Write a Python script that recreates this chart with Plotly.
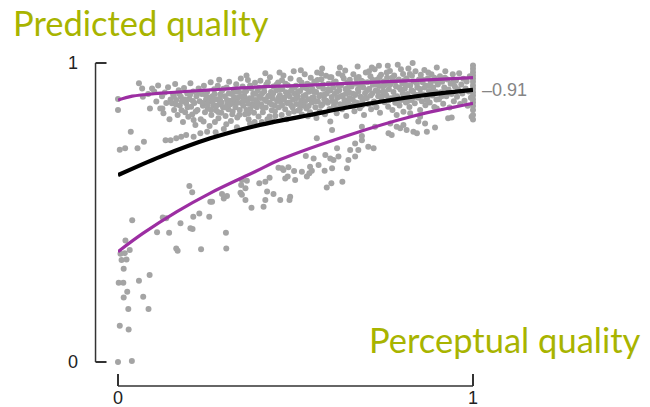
import plotly.graph_objects as go

# ---- scatter data: perceptual quality (x) vs predicted quality (y) ----
sparse_x = [0.000, 0.039, 0.005, 0.030, 0.029, 0.086, 0.016, 0.071, 0.026, 0.002,
            0.015, 0.059, 0.089, 0.016, 0.010, 0.024, 0.019, 0.007, 0.033, 0.021,
            0.110, 0.144, 0.164, 0.168, 0.204, 0.210, 0.234, 0.304, 0.305, 0.176,
            0.040, 0.201, 0.209, 0.293, 0.307, 0.298, 0.260, 0.265, 0.126, 0.136,
            0.212, 0.229, 0.257, 0.347, 0.363, 0.345, 0.349, 0.398, 0.415, 0.427,
            0.359, 0.376, 0.420, 0.438, 0.415, 0.410, 0.471, 0.478, 0.499, 0.483,
            0.532, 0.539, 0.546, 0.582, 0.588, 0.601, 0.632, 0.466, 0.496, 0.452,
            0.480, 0.541, 0.565, 0.603, 0.645, 0.598, 0.529, 0.649, 0.668, 0.617,
            0.668, 0.560, 0.603, 0.598, 0.349, 0.359, 0.462, 0.518, 0.485, 0.457]
sparse_y = [0.000, 0.003, 0.121, 0.109, 0.177, 0.177, 0.216, 0.218, 0.235, 0.265,
            0.265, 0.272, 0.291, 0.312, 0.341, 0.343, 0.364, 0.362, 0.375, 0.406,
            0.434, 0.432, 0.380, 0.372, 0.447, 0.445, 0.377, 0.432, 0.380, 0.464,
            0.474, 0.589, 0.568, 0.562, 0.555, 0.547, 0.536, 0.536, 0.483, 0.481,
            0.486, 0.497, 0.486, 0.592, 0.606, 0.566, 0.559, 0.598, 0.603, 0.616,
            0.542, 0.516, 0.570, 0.562, 0.542, 0.519, 0.614, 0.620, 0.609, 0.542,
            0.620, 0.631, 0.640, 0.640, 0.584, 0.598, 0.603, 0.642, 0.639, 0.650,
            0.651, 0.653, 0.659, 0.648, 0.648, 0.681, 0.689, 0.676, 0.687, 0.715,
            0.731, 0.748, 0.776, 0.804, 0.609, 0.581, 0.648, 0.636, 0.553, 0.542]

mid_x = [0.551, 0.584, 0.607, 0.621, 0.654, 0.677, 0.687, 0.687, 0.705, 0.720,
         0.687, 0.724, 0.762, 0.771, 0.767, 0.785, 0.795, 0.804, 0.813, 0.832,
         0.842, 0.846, 0.865, 0.870, 0.893, 0.785, 0.804, 0.823, 0.851, 0.851,
         0.898, 0.930, 0.940, 0.996, 0.134, 0.148, 0.164, 0.178, 0.192, 0.213,
         0.232, 0.251, 0.213, 0.241, 0.000, 0.000, 0.005, 0.020, 0.036, 0.055,
         0.073, 0.059, 0.068, 0.070, 0.096, 0.090, 0.085]
mid_y = [0.681, 0.692, 0.676, 0.687, 0.709, 0.709, 0.742, 0.756, 0.720, 0.715,
         0.787, 0.787, 0.765, 0.759, 0.798, 0.787, 0.782, 0.793, 0.776, 0.770,
         0.765, 0.804, 0.798, 0.770, 0.784, 0.826, 0.837, 0.832, 0.820, 0.843,
         0.848, 0.815, 0.818, 0.820, 0.742, 0.742, 0.748, 0.753, 0.759, 0.753,
         0.765, 0.770, 0.809, 0.804, 0.880, 0.843, 0.710, 0.715, 0.770, 0.715,
         0.737, 0.932, 0.915, 0.887, 0.915, 0.848, 0.896]

dense_x = [
    0.102, 0.108, 0.113, 0.119, 0.124, 0.128, 0.132, 0.136, 0.141, 0.145, 0.148, 0.125,
    0.152, 0.155, 0.158, 0.161, 0.164, 0.168, 0.171, 0.174, 0.177, 0.180, 0.183, 0.186, 0.189, 0.192, 0.195, 0.198,
    0.201, 0.204, 0.206, 0.209, 0.212, 0.215, 0.218, 0.221, 0.224, 0.227, 0.230, 0.233, 0.236, 0.239, 0.242, 0.245, 0.248,
    0.251, 0.253, 0.256, 0.258, 0.261, 0.263, 0.266, 0.268, 0.271, 0.273, 0.276, 0.278, 0.281, 0.283, 0.286, 0.288, 0.291, 0.293, 0.296, 0.298, 0.275, 0.285,
    0.301, 0.303, 0.306, 0.308, 0.311, 0.313, 0.316, 0.318, 0.321, 0.323, 0.326, 0.328, 0.331, 0.333, 0.336, 0.338, 0.341, 0.343, 0.346, 0.348, 0.305, 0.335,
    0.351, 0.353, 0.356, 0.358, 0.361, 0.363, 0.366, 0.368, 0.371, 0.373, 0.376, 0.378, 0.381, 0.383, 0.386, 0.388, 0.391, 0.393, 0.396, 0.398, 0.362, 0.385, 0.372,
    0.401, 0.403, 0.406, 0.408, 0.411, 0.413, 0.416, 0.418, 0.421, 0.423, 0.426, 0.428, 0.431, 0.433, 0.436, 0.438, 0.441, 0.443, 0.446, 0.448, 0.415, 0.435, 0.405,
    0.451, 0.453, 0.456, 0.458, 0.461, 0.463, 0.466, 0.468, 0.471, 0.473, 0.476, 0.478, 0.481, 0.483, 0.486, 0.488, 0.491, 0.493, 0.496, 0.498, 0.475, 0.455, 0.495,
    0.501, 0.503, 0.506, 0.508, 0.511, 0.513, 0.516, 0.518, 0.521, 0.523, 0.526, 0.528, 0.531, 0.533, 0.536, 0.538, 0.541, 0.543, 0.546, 0.548, 0.515, 0.535,
    0.551, 0.553, 0.556, 0.558, 0.561, 0.563, 0.566, 0.568, 0.571, 0.573, 0.576, 0.578, 0.581, 0.583, 0.586, 0.588, 0.591, 0.593, 0.596, 0.598, 0.575, 0.559,
    0.601, 0.603, 0.606, 0.608, 0.611, 0.613, 0.616, 0.618, 0.621, 0.623, 0.626, 0.628, 0.631, 0.633, 0.636, 0.638, 0.641, 0.643, 0.646, 0.648, 0.625, 0.640,
    0.651, 0.653, 0.656, 0.658, 0.661, 0.663, 0.666, 0.668, 0.671, 0.673, 0.676, 0.678, 0.681, 0.683, 0.686, 0.688, 0.691, 0.693, 0.696, 0.698, 0.675,
    0.701, 0.703, 0.706, 0.708, 0.711, 0.713, 0.716, 0.718, 0.721, 0.723, 0.726, 0.728, 0.731, 0.733, 0.736, 0.738, 0.741, 0.743, 0.746, 0.748, 0.715, 0.735,
    0.751, 0.753, 0.756, 0.758, 0.761, 0.763, 0.766, 0.768, 0.771, 0.773, 0.776, 0.778, 0.781, 0.783, 0.786, 0.788, 0.791, 0.793, 0.796, 0.798, 0.760,
    0.801, 0.803, 0.806, 0.808, 0.811, 0.813, 0.816, 0.818, 0.821, 0.823, 0.826, 0.828, 0.831, 0.833, 0.836, 0.838, 0.841, 0.843, 0.846, 0.848, 0.830,
    0.851, 0.853, 0.856, 0.858, 0.861, 0.863, 0.866, 0.868, 0.871, 0.873, 0.876, 0.878, 0.881, 0.883, 0.886, 0.888, 0.891, 0.893, 0.896, 0.898,
    0.901, 0.904, 0.907, 0.910, 0.913, 0.916, 0.919, 0.922, 0.925, 0.928, 0.931, 0.934, 0.937, 0.940, 0.943, 0.946, 0.949,
    0.952, 0.955, 0.958, 0.961, 0.964, 0.967, 0.970, 0.973, 0.976, 0.979, 0.982, 0.985, 0.988, 0.991, 0.994,
    1.000, 1.000, 1.000, 1.000, 1.000, 1.000, 1.000, 1.000, 1.000, 1.000, 1.000, 1.000, 1.000, 1.000, 1.000, 1.000,
]
dense_y = [
    0.905, 0.871, 0.925, 0.848, 0.889, 0.832, 0.901, 0.866, 0.919, 0.812, 0.878, 0.848,
    0.865, 0.896, 0.843, 0.930, 0.876, 0.826, 0.909, 0.858, 0.887, 0.871, 0.803, 0.916, 0.835, 0.865, 0.898, 0.820,
    0.880, 0.932, 0.854, 0.828, 0.905, 0.866, 0.793, 0.889, 0.843, 0.915, 0.872, 0.812, 0.896, 0.857, 0.924, 0.835, 0.878,
    0.903, 0.848, 0.871, 0.789, 0.936, 0.826, 0.889, 0.857, 0.912, 0.803, 0.842, 0.879, 0.924, 0.815, 0.862, 0.895, 0.834, 0.907, 0.851, 0.779, 0.768, 0.944,
    0.889, 0.823, 0.918, 0.861, 0.845, 0.937, 0.874, 0.806, 0.896, 0.838, 0.911, 0.868, 0.852, 0.929, 0.818, 0.884, 0.903, 0.843, 0.948, 0.866, 0.795, 0.785,
    0.921, 0.857, 0.889, 0.829, 0.906, 0.874, 0.943, 0.812, 0.882, 0.846, 0.915, 0.863, 0.897, 0.834, 0.934, 0.876, 0.852, 0.908, 0.821, 0.889, 0.958, 0.803, 0.797,
    0.941, 0.862, 0.898, 0.835, 0.917, 0.878, 0.851, 0.928, 0.812, 0.889, 0.868, 0.952, 0.903, 0.842, 0.881, 0.921, 0.858, 0.823, 0.909, 0.873, 0.966, 0.805, 0.803,
    0.935, 0.852, 0.893, 0.871, 0.826, 0.913, 0.958, 0.884, 0.845, 0.902, 0.866, 0.926, 0.832, 0.889, 0.948, 0.859, 0.915, 0.877, 0.838, 0.897, 0.812, 0.968, 0.972,
    0.924, 0.863, 0.889, 0.841, 0.943, 0.906, 0.875, 0.828, 0.918, 0.857, 0.962, 0.893, 0.848, 0.931, 0.879, 0.904, 0.835, 0.951, 0.868, 0.912, 0.976, 0.822,
    0.885, 0.937, 0.852, 0.903, 0.968, 0.871, 0.921, 0.838, 0.893, 0.946, 0.862, 0.914, 0.879, 0.829, 0.957, 0.898, 0.867, 0.931, 0.846, 0.908, 0.982, 0.816,
    0.952, 0.873, 0.918, 0.856, 0.897, 0.938, 0.832, 0.884, 0.965, 0.909, 0.862, 0.926, 0.845, 0.891, 0.948, 0.876, 0.913, 0.823, 0.935, 0.868, 0.985, 0.975,
    0.902, 0.944, 0.857, 0.921, 0.878, 0.962, 0.839, 0.893, 0.931, 0.867, 0.912, 0.953, 0.849, 0.887, 0.941, 0.873, 0.918, 0.826, 0.899, 0.968, 0.988,
    0.883, 0.936, 0.862, 0.914, 0.956, 0.845, 0.898, 0.927, 0.871, 0.979, 0.908, 0.852, 0.945, 0.889, 0.923, 0.834, 0.961, 0.876, 0.904, 0.938, 0.985, 0.991,
    0.869, 0.927, 0.891, 0.951, 0.854, 0.912, 0.973, 0.882, 0.936, 0.843, 0.903, 0.958, 0.867, 0.921, 0.889, 0.994, 0.945, 0.858, 0.911, 0.876, 0.991,
    0.932, 0.963, 0.887, 0.914, 0.868, 0.948, 0.896, 0.982, 0.853, 0.925, 0.876, 0.957, 0.905, 0.938, 0.865, 0.972, 0.893, 0.918, 0.884, 0.945, 1.000,
    0.913, 0.961, 0.872, 0.936, 0.895, 0.977, 0.859, 0.924, 0.882, 0.949, 0.906, 0.868, 0.935, 0.962, 0.891, 0.918, 0.853, 0.941, 0.903, 0.985,
    0.928, 0.879, 0.956, 0.902, 0.937, 0.864, 0.918, 0.972, 0.889, 0.945, 0.911, 0.851, 0.931, 0.896, 0.962, 0.872, 0.921,
    0.941, 0.887, 0.912, 0.966, 0.863, 0.928, 0.898, 0.947, 0.874, 0.915, 0.938, 0.857, 0.905, 0.956, 0.884,
    0.811, 0.826, 0.843, 0.856, 0.868, 0.879, 0.891, 0.902, 0.914, 0.925, 0.937, 0.948, 0.958, 0.969, 0.981, 0.992,
]

core_x = [
    0.157, 0.163, 0.172, 0.179, 0.188, 0.196, 0.203, 0.211, 0.219, 0.226, 0.238, 0.247,
    0.252, 0.257, 0.262, 0.267, 0.272, 0.277, 0.282, 0.287, 0.292, 0.297,
    0.302, 0.307, 0.312, 0.317, 0.322, 0.327, 0.332, 0.337, 0.342, 0.347,
    0.352, 0.357, 0.362, 0.367, 0.372, 0.377, 0.382, 0.387, 0.392, 0.397, 0.402,
    0.407, 0.412, 0.417, 0.422, 0.427, 0.432, 0.437, 0.442, 0.447, 0.367, 0.427,
    0.452, 0.457, 0.462, 0.467, 0.472, 0.477, 0.482, 0.487, 0.492, 0.497, 0.502,
    0.507, 0.512, 0.517, 0.522, 0.527, 0.532, 0.537, 0.542, 0.547, 0.462, 0.512,
    0.552, 0.557, 0.562, 0.567, 0.572, 0.577, 0.582, 0.587, 0.592, 0.597, 0.602,
    0.607, 0.612, 0.617, 0.622, 0.627, 0.632, 0.637, 0.642, 0.647, 0.572, 0.617,
    0.652, 0.657, 0.662, 0.667, 0.672, 0.677, 0.682, 0.687, 0.692, 0.697,
    0.702, 0.707, 0.712, 0.717, 0.722, 0.727, 0.732, 0.737, 0.742, 0.747,
    0.752, 0.757, 0.762, 0.767, 0.772, 0.777, 0.782, 0.787, 0.792, 0.797,
    0.802, 0.807, 0.812, 0.817, 0.822, 0.827, 0.832, 0.842,
    0.852, 0.858, 0.864, 0.869, 0.874, 0.879, 0.885, 0.891, 0.897, 0.905,
    0.912, 0.921, 0.932, 0.944,
]
core_y = [
    0.889, 0.861, 0.897, 0.842, 0.878, 0.852, 0.894, 0.873, 0.838, 0.901, 0.866, 0.893,
    0.862, 0.884, 0.843, 0.872, 0.896, 0.857, 0.836, 0.879, 0.868, 0.914,
    0.852, 0.876, 0.898, 0.862, 0.829, 0.885, 0.904, 0.867, 0.827, 0.889,
    0.872, 0.903, 0.843, 0.864, 0.925, 0.881, 0.858, 0.897, 0.869, 0.917, 0.883,
    0.852, 0.905, 0.873, 0.936, 0.891, 0.862, 0.898, 0.839, 0.928, 0.832, 0.821,
    0.884, 0.912, 0.859, 0.878, 0.931, 0.895, 0.868, 0.906, 0.851, 0.919, 0.882,
    0.905, 0.862, 0.935, 0.889, 0.872, 0.914, 0.856, 0.926, 0.884, 0.942, 0.845,
    0.903, 0.872, 0.943, 0.889, 0.857, 0.928, 0.895, 0.874, 0.911, 0.952, 0.886,
    0.934, 0.869, 0.905, 0.924, 0.889, 0.958, 0.862, 0.897, 0.916, 0.965, 0.849,
    0.883, 0.931, 0.897, 0.869, 0.947, 0.904, 0.925, 0.858, 0.936, 0.882,
    0.909, 0.972, 0.891, 0.944, 0.864, 0.928, 0.905, 0.953, 0.889, 0.921,
    0.903, 0.968, 0.875, 0.928, 0.951, 0.884, 0.939, 0.867, 0.918, 0.979,
    0.898, 0.942, 0.926, 0.873, 0.963, 0.909, 0.885, 0.931,
    0.897, 0.945, 0.918, 0.876, 0.968, 0.924, 0.903, 0.951, 0.878, 0.942,
    0.889, 0.951, 0.903, 0.936,
]

# ---- fitted curves ----
fit_x = [0.0, 0.12, 0.26, 0.40, 0.54, 0.645, 0.83, 1.0]
fit_y = [0.625, 0.687, 0.748, 0.793, 0.826, 0.851, 0.887, 0.910]
upper_x = [0.0, 0.04, 0.12, 0.26, 0.40, 0.54, 0.645, 0.83, 1.0]
upper_y = [0.876, 0.889, 0.899, 0.910, 0.920, 0.926, 0.932, 0.941, 0.951]
lower_x = [0.0, 0.07, 0.166, 0.26, 0.387, 0.457, 0.645, 0.83, 1.0]
lower_y = [0.369, 0.430, 0.503, 0.565, 0.637, 0.677, 0.757, 0.822, 0.865]

fit_label = "–0.91"
x_ticks = [0, 1]
y_ticks = [0, 1]
x_title = "Perceptual quality"
y_title = "Predicted quality"

GREY = "#a4a4a4"
PURPLE = "#9c2ea2"
OLIVE = "#a8b400"
AXIS = "#333333"

fig = go.Figure()
fig.add_trace(go.Scatter(
    x=sparse_x + mid_x + dense_x + core_x, y=sparse_y + mid_y + dense_y + core_y,
    mode="markers", marker=dict(size=6, color=GREY, line=dict(width=0)),
    cliponaxis=False, hoverinfo="skip"))
for xs, ys in ((upper_x, upper_y), (lower_x, lower_y)):
    fig.add_trace(go.Scatter(
        x=xs, y=ys, mode="lines", line=dict(color=PURPLE, width=3.2, shape="spline"),
        cliponaxis=False, hoverinfo="skip"))
fig.add_trace(go.Scatter(
    x=fit_x, y=fit_y, mode="lines", line=dict(color="#000000", width=4.2, shape="spline"),
    cliponaxis=False, hoverinfo="skip"))

tick_font = dict(family="Liberation Sans, Arial, sans-serif", size=18, color="#222222")
title_font = dict(family="Lato, sans-serif", size=34.5, color=OLIVE)

# frame: plotting area in pixels
W, H = 650, 407
ML, MR, MT, MB = 117.5, 177, 63, 45
pw, ph = W - ML - MR, H - MT - MB          # px per unit of x / y domain


def dx(px):
    return px / pw


def dy(px):
    return px / ph


# offset axis spines (outside the data area), in axis-domain units
x_spine = -dy(24)     # horizontal spine 24 px below y = 0
y_spine = -dx(22.5)   # vertical spine 22.5 px left of x = 0
shapes = [
    dict(type="line", xref="x domain", yref="y domain", x0=0, x1=1, y0=x_spine, y1=x_spine,
         line=dict(color=AXIS, width=1.5)),
    dict(type="line", xref="x domain", yref="y domain", x0=y_spine, x1=y_spine, y0=0, y1=1,
         line=dict(color=AXIS, width=1.5)),
]
annotations = []
for t in x_ticks:
    shapes.append(dict(type="line", xref="x domain", yref="y domain", x0=t, x1=t,
                       y0=x_spine, y1=x_spine + dy(12), line=dict(color=AXIS, width=2)))
    annotations.append(dict(x=t, y=x_spine, xref="x domain", yref="y domain", text=str(t),
                            showarrow=False, xanchor="center", yanchor="top", yshift=0,
                            font=tick_font))
for t in y_ticks:
    shapes.append(dict(type="line", xref="x domain", yref="y domain", x0=y_spine,
                       x1=y_spine + dx(11), y0=t, y1=t, line=dict(color=AXIS, width=2)))
    annotations.append(dict(x=y_spine, y=t, xref="x domain", yref="y domain", text=str(t),
                            showarrow=False, xanchor="right", yanchor="middle", xshift=-16,
                            font=tick_font))

annotations += [
    dict(x=1, y=fit_y[-1], xref="x", yref="y", text=fit_label, showarrow=False,
         xanchor="left", yanchor="middle", xshift=7,
         font=dict(family="Liberation Sans, Arial, sans-serif", size=18, color="#858585")),
    dict(x=dx(10 - ML), y=dy(H - MB - 22), xref="x domain", yref="y domain",
         text=y_title, showarrow=False, xanchor="left", yanchor="middle", font=title_font),
    dict(x=1 + dx(643 - (W - MR)), y=dy(H - MB - 339), xref="x domain", yref="y domain",
         text=x_title, showarrow=False, xanchor="right", yanchor="middle", font=title_font),
]

fig.update_layout(
    width=W, height=H,
    margin=dict(l=ML, r=MR, t=MT, b=MB, pad=0),
    paper_bgcolor="white", plot_bgcolor="white",
    showlegend=False,
    xaxis=dict(range=[0, 1], visible=False, fixedrange=True),
    yaxis=dict(range=[0, 1], visible=False, fixedrange=True),
    shapes=shapes,
    annotations=annotations,
)

fig.write_html("out.html")
